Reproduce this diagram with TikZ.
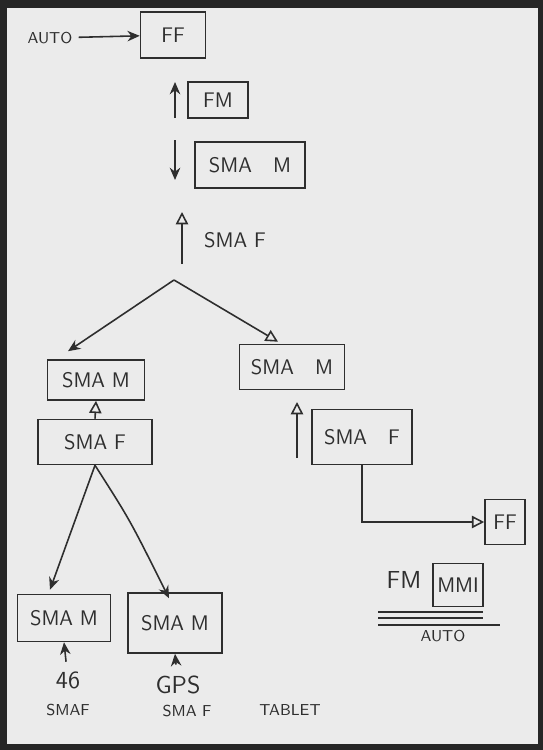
\documentclass[tikz,border=0pt]{standalone}
\usetikzlibrary{arrows.meta,calc}
\definecolor{PaperClr}{rgb}{0.92,0.92,0.92}
\definecolor{InkClr}{rgb}{0.18,0.18,0.18}

\begin{document}
\begin{tikzpicture}[x=0.02cm,y=-0.02cm,
  every node/.style={font=\sffamily\fontsize{12}{14}\selectfont,text=InkClr},
  box/.style={draw=InkClr,line width=0.9pt,inner sep=2pt},
  small/.style={font=\sffamily\fontsize{9}{11}\selectfont},
  big/.style={font=\sffamily\fontsize{14}{16}\selectfont},
  ink/.style={draw=InkClr,line width=0.9pt},
  open/.style={ink,-{Triangle[open,length=7pt,width=7pt]}},
  solid/.style={ink,-{Stealth[length=7pt,width=6pt]}}]

\fill[black!85] (0,0) rectangle (543,750);
\fill[PaperClr] (7,8) rectangle (538,744);

% top chain
\node[small] (auto1) at (50,38) {AUTO};
\node[box,minimum width=1.3cm,minimum height=0.92cm] (ff1) at (173,35) {FF};
\node[box,minimum width=1.2cm,minimum height=0.72cm] (fm1) at (218,100) {FM};
\node[box,minimum width=2.2cm,minimum height=0.92cm] (smam1) at (250,165) {SMA\quad M};
\node (smaf1) at (235,240) {SMA F};

\coordinate (a1s) at (175,118);
\coordinate (a1e) at (175,82);
\coordinate (a2s) at (175,140);
\coordinate (a2e) at (175,180);
\coordinate (a3s) at (182,264);
\coordinate (a3e) at (182,212);
\coordinate (split) at (174,280);

\draw[solid] (auto1) -- (ff1);
\draw[solid] (a1s) -- (a1e);
\draw[solid] (a2s) -- (a2e);
\draw[open] (a3s) -- (a3e);

% middle level
\node[box,minimum width=1.94cm,minimum height=0.8cm] (smamL) at (96,380) {SMA M};
\node[box,minimum width=2.1cm,minimum height=0.9cm] (smamR) at (292,367) {SMA\quad M};
\node[box,minimum width=2.28cm,minimum height=0.9cm] (smafL) at (95,442) {SMA F};
\node[box,minimum width=2.0cm,minimum height=1.1cm] (smafR) at (362,437) {SMA\quad F};
\node[box,minimum width=0.8cm,minimum height=0.9cm] (ffR) at (505,522) {FF};

\coordinate (a4s) at (297,458);
\coordinate (a4e) at (297,402);

\draw[solid] (split) -- ($(smamL.north)+(-28,-8)$);
\draw[open] (split) -- ($(smamR.north)+(-14,-2)$);
\draw[open] (smafL.north) -- (smamL.south);
\draw[open] (a4s) -- (a4e);
\draw[open] (smafR.south) |- (ffR.west);

% bottom level
\node[box,minimum width=1.86cm,minimum height=0.94cm] (smamBL) at (64,618) {SMA M};
\node[box,minimum width=1.88cm,minimum height=1.2cm] (smamBM) at (175,623) {SMA M};
\node[big] (n46) at (68,680) {46};
\node[small] (smafBL) at (68,710) {SMAF};
\node[big] (gps) at (178,685) {GPS};
\node[small] (smafBM) at (187,711) {SMA F};
\node[small] (tablet) at (290,710) {TABLET};

\draw[solid] (smafL.south) -- ($(smamBL.north)+(-14,-4)$);
\draw[solid] (smafL.south) .. controls (130,520) .. ($(smamBM.north)+(-6,6)$);
\draw[solid,shorten <=2pt] (n46) -- (smamBL.south);
\draw[solid,shorten <=3pt] (gps) -- (smamBM.south);

% legend
\node[big] (fm2) at (404,580) {FM};
\node[box,minimum width=1.0cm,minimum height=0.86cm] (mmi) at (458,585) {MMI};
\node[small] (auto2) at (443,636) {AUTO};
\draw[ink] (378,612) -- (483,612);
\draw[ink] (378,618) -- (483,618);
\draw[ink] (378,625) -- (500,625);

\end{tikzpicture}
\end{document}
